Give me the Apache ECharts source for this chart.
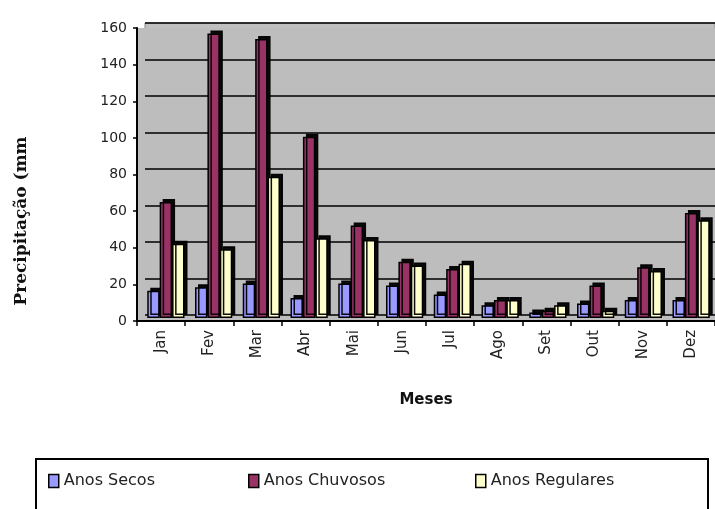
<!DOCTYPE html>
<html>
<head>
<meta charset="utf-8">
<script src="https://cdn.jsdelivr.net/npm/echarts@6/dist/echarts.min.js"></script>
<style>html,body{margin:0;padding:0;background:#fff}#c{width:715px;height:509px}</style>
</head>
<body>
<div id="c"></div>
<script>
const months = ['Jan','Fev','Mar','Abr','Mai','Jun','Jul','Ago','Set','Out','Nov','Dez'];
const anosSecos = [15,17,19,11,19,18,13,7,3,8,10,10];
const anosChuvosos = [64,157,154,100,51,31,27,10,4,18,28,58];
const anosRegulares = [41,38,78,44,43,29,30,10,7,4,26,54];
const seriesNames = ['Anos Secos','Anos Chuvosos','Anos Regulares'];
const seriesColors = ['#9999FF','#993366','#FFFFCC'];
const yMin = 0, yMax = 160, yStep = 20;
const xTitle = 'Meses';
const yTitle = 'Precipitação (mm';

const chart = echarts.init(document.getElementById('c'), null, {renderer:'canvas'});
const barStyle = c => ({color:c, borderColor:'#000', borderWidth:1.5,
  shadowColor:'rgba(0,0,0,0.95)', shadowBlur:0, shadowOffsetX:3, shadowOffsetY:-3});
const legendBase = {
  top: 468, itemWidth: 10, itemHeight: 13, selectedMode: false, icon: 'rect',
  itemStyle: {shadowBlur:0, shadowOffsetX:0, shadowOffsetY:0, shadowColor:'transparent', borderColor:'#000', borderWidth:1.5},
  textStyle: {fontFamily:'DejaVu Sans', fontSize:16, color:'#222'}
};
chart.setOption({
  animation: false,
  grid: [
    {left:145, right:0, top:23, height:292, show:true, backgroundColor:'#C0C0C0', borderColor:'#888', borderWidth:1},
    {left:137, right:0, top:28, height:293, show:true, backgroundColor:'#BDBDBD', borderWidth:0},
    {left:142, width:578, top:28, height:290, show:false}
  ],
  xAxis: [
    {gridIndex:0, type:'category', data:months, show:false},
    {gridIndex:1, type:'category', data:months,
      axisLine:{lineStyle:{color:'#000', width:2}},
      axisTick:{show:true, length:5, lineStyle:{color:'#000', width:1.5}},
      axisLabel:{rotate:90, margin:9, fontFamily:'DejaVu Sans', fontSize:15, color:'#222'},
      name:xTitle, nameLocation:'middle', nameGap:72,
      nameTextStyle:{fontFamily:'DejaVu Sans', fontWeight:'bold', fontSize:15, color:'#111'}},
    {gridIndex:2, type:'category', data:months, show:false}
  ],
  yAxis: [
    {gridIndex:0, type:'value', min:yMin, max:yMax, interval:yStep,
      axisLine:{show:false}, axisTick:{show:false}, axisLabel:{show:false},
      splitLine:{lineStyle:{color:'#000', width:1.5}}},
    {gridIndex:1, type:'value', min:yMin, max:yMax, interval:yStep,
      axisLine:{show:true, lineStyle:{color:'#000', width:2}},
      axisTick:{show:true, length:4, lineStyle:{color:'#000', width:1.5}},
      axisLabel:{margin:10, fontFamily:'DejaVu Sans', fontSize:14, color:'#222'},
      splitLine:{show:false}},
    {gridIndex:2, type:'value', min:yMin, max:yMax, interval:yStep, show:false, splitLine:{show:false}}
  ],
  legend: [
    Object.assign({}, legendBase, {left:43, data:[seriesNames[0]]}),
    Object.assign({}, legendBase, {left:243, data:[seriesNames[1]]}),
    Object.assign({}, legendBase, {left:470, data:[seriesNames[2]]})
  ],
  graphic: [
    {type:'rect', z:-1, shape:{x:36, y:459, width:672, height:60}, style:{fill:'#fff', stroke:'#000', lineWidth:2}},
    {type:'text', x:22, y:221, rotation:Math.PI/2,
      style:{text:yTitle, font:'bold 17px "DejaVu Serif"', fill:'#111', align:'center', verticalAlign:'middle'}}
  ],
  series: [
    {name:seriesNames[0], type:'bar', xAxisIndex:2, yAxisIndex:2, data:anosSecos, barGap:'0%', barCategoryGap:'22%', itemStyle:barStyle(seriesColors[0])},
    {name:seriesNames[1], type:'bar', xAxisIndex:2, yAxisIndex:2, data:anosChuvosos, barGap:'0%', barCategoryGap:'22%', itemStyle:barStyle(seriesColors[1])},
    {name:seriesNames[2], type:'bar', xAxisIndex:2, yAxisIndex:2, data:anosRegulares, barGap:'0%', barCategoryGap:'22%', itemStyle:barStyle(seriesColors[2])}
  ]
});
</script>
</body>
</html>
